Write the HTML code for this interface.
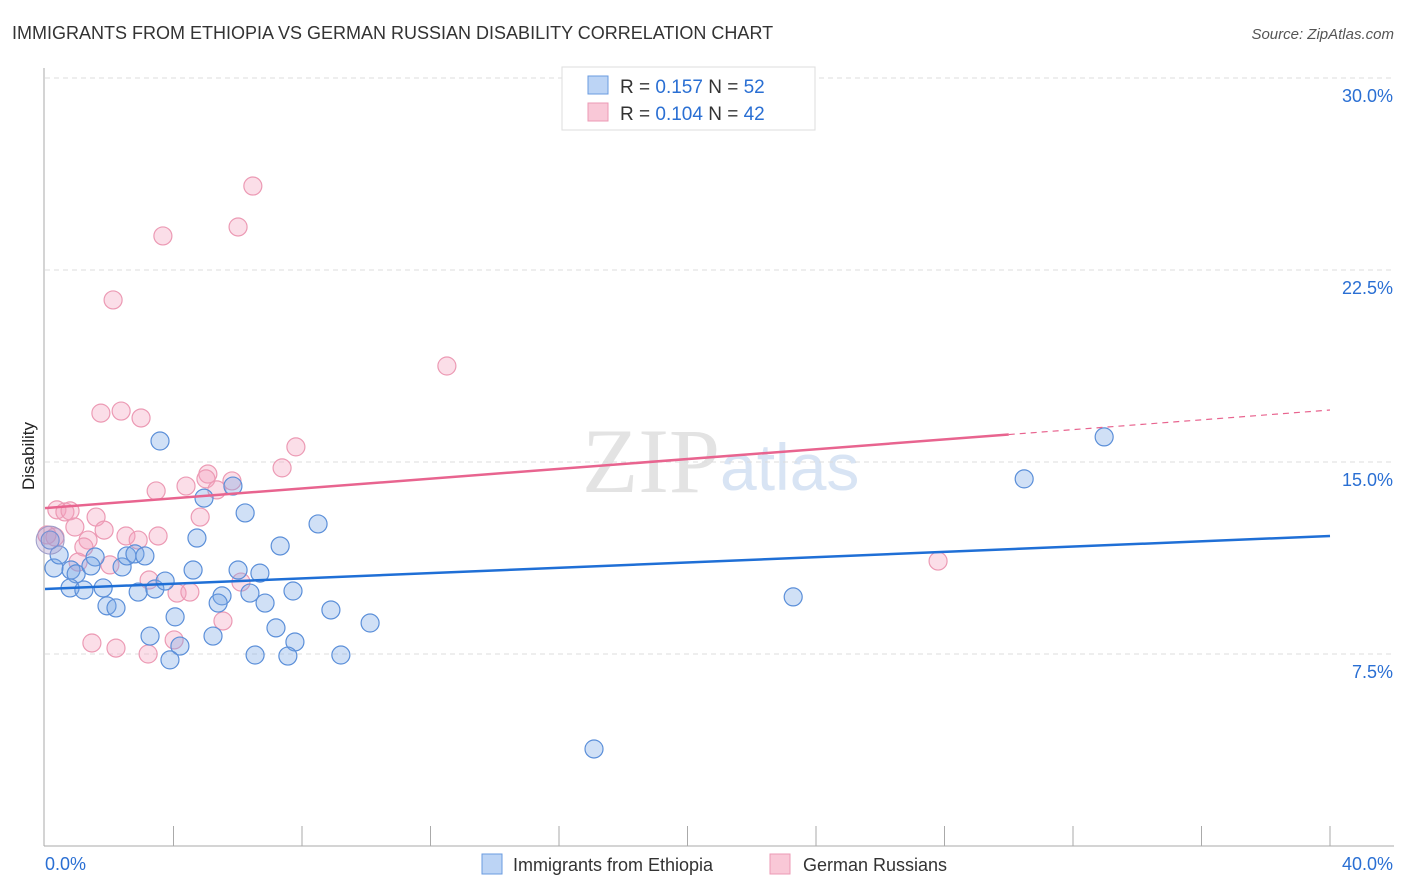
<!DOCTYPE html>
<html><head><meta charset="utf-8"><style>
body{margin:0;background:#fff;font-family:"Liberation Sans",sans-serif}
svg{display:block}
</style></head><body>
<svg width="1406" height="892" id="c">
<text x="12" y="39" font-size="18" fill="#333">IMMIGRANTS FROM ETHIOPIA VS GERMAN RUSSIAN DISABILITY CORRELATION CHART</text>
<text x="1394" y="39" font-size="15" fill="#555" font-style="italic" text-anchor="end">Source: ZipAtlas.com</text>
<text x="720" y="492" font-size="92" fill="#e3e3e3" text-anchor="end" font-family="Liberation Serif">ZIP</text>
<text x="720" y="490" font-size="66" fill="#d8e4f4">atlas</text>
<text x="34" y="456" font-size="17" fill="#222" transform="rotate(-90 34 456)" text-anchor="middle">Disability</text>
<g id="grid"></g><g id="marks"></g>
<g>
<rect x="562" y="67" width="253" height="63" fill="#fff" stroke="#ddd"/>
<rect x="588" y="76" width="20" height="18" fill="#bcd4f5" stroke="#6a9be0"/>
<rect x="588" y="103" width="20" height="18" fill="#f9c8d7" stroke="#ec9ab4"/>
<text x="620" y="93" font-size="19" fill="#333">R = <tspan fill="#2a6fd3">0.157</tspan>   N = <tspan fill="#2a6fd3">52</tspan></text>
<text x="620" y="120" font-size="19" fill="#333">R = <tspan fill="#2a6fd3">0.104</tspan>   N = <tspan fill="#2a6fd3">42</tspan></text>
</g>
<g>
<rect x="482" y="854" width="20" height="20" fill="#bcd4f5" stroke="#6a9be0"/>
<text x="513" y="871" font-size="18" fill="#333">Immigrants from Ethiopia</text>
<rect x="770" y="854" width="20" height="20" fill="#f9c8d7" stroke="#ec9ab4"/>
<text x="803" y="871" font-size="18" fill="#333">German Russians</text>
</g>
</svg>
<script>
const blueX=[3.58,4.95,5.85,6.23,8.50,4.73,7.32,0.28,0.44,0.81,0.97,1.56,1.43,2.40,2.55,2.80,3.11,0.78,1.21,1.81,2.90,3.42,3.74,4.61,6.01,6.69,6.38,5.51,7.72,1.93,2.21,5.39,6.85,8.90,4.05,3.27,5.23,4.20,3.89,7.19,7.78,6.54,7.56,9.21,10.12,17.09,23.29,30.48,32.97,0.16];
const blueY=[15.82,13.59,14.06,13.01,12.58,12.03,11.72,10.86,11.37,10.78,10.63,11.29,10.94,10.90,11.33,11.41,11.33,10.08,10.00,10.08,9.92,10.04,10.35,10.78,10.78,10.66,9.88,9.77,9.96,9.38,9.30,9.49,9.49,9.22,8.95,8.20,8.20,7.81,7.27,8.52,7.97,7.46,7.42,7.46,8.71,3.79,9.73,14.34,15.98,11.95];
const pinkX=[6.47,6.01,3.67,2.12,12.51,1.74,2.37,2.99,7.81,7.38,5.07,5.01,5.82,4.39,3.46,5.35,4.83,0.37,0.62,0.78,1.59,0.93,1.84,2.52,3.52,2.90,1.34,1.21,1.03,2.02,3.24,4.11,4.51,6.10,5.54,1.46,2.21,3.21,4.02,27.80,0.06,0.31];
const pinkY=[25.78,24.18,23.83,21.33,18.75,16.91,16.99,16.72,15.59,14.77,14.53,14.34,14.26,14.06,13.87,13.91,12.85,13.13,13.05,13.09,12.85,12.46,12.34,12.11,12.11,11.95,11.95,11.68,11.09,10.98,10.39,9.88,9.92,10.31,8.79,7.93,7.73,7.50,8.05,11.13,12.15,12.07];
const blueTrend=[10.04,12.11];
const pinkTrend=[13.2,17.03];
const pinkSolidEnd=30.0;
const yTicks=[7.5,15,22.5,30];
const xTickCount=10;
const X=v=>45+v/40*1285, Y=v=>846-v*25.6;
const NS='http://www.w3.org/2000/svg';
function mk(t,a,p){const e=document.createElementNS(NS,t);for(const k in a)e.setAttribute(k,a[k]);p.appendChild(e);return e;}
const g=document.getElementById('grid'),m=document.getElementById('marks');
yTicks.forEach(t=>{const l=mk('line',{x1:45,x2:1394,y1:Y(t),y2:Y(t),stroke:'#ddd','stroke-dasharray':'5,4'},g);


const tx=mk('text',{x:1393,y:Y(t)+24,'font-size':18,fill:'#2a6fd3','text-anchor':'end'},g);tx.textContent=t.toFixed(1)+'%';

});
const ax=mk('line',{x1:44,x2:44,y1:68,y2:846,stroke:'#aaa'},g);


const bx=mk('line',{x1:44,x2:1394,y1:846,y2:846,stroke:'#aaa'},g);


for(let i=1;i<=xTickCount;i++){const v=i*40/xTickCount;const l=mk('line',{x1:X(v),x2:X(v),y1:826,y2:846,stroke:'#aaa'},g);

}
[['0.0%',45,'start'],['40.0%',1393,'end']].forEach(([s,x,a])=>{const t=mk('text',{x:x,y:870,'font-size':18,fill:'#2a6fd3','text-anchor':a},g);t.textContent=s;

});
function dots(xs,ys,f,s,name){xs.forEach((x,i)=>{const c=mk('circle',{cx:X(x),cy:Y(ys[i]),r:9,fill:f,stroke:s,'stroke-width':1.2},m);

});}
dots(pinkX,pinkY,'rgba(244,160,188,0.35)','#ec9ab4','german-russians-point');
dots(blueX,blueY,'rgba(120,165,230,0.35)','#5b8fd9','ethiopia-point');
const big=mk('circle',{cx:X(0.16),cy:Y(11.95),r:14,fill:'rgba(170,150,200,0.35)',stroke:'#9a9ac8'},m);


const bl=mk('line',{x1:X(0),y1:Y(blueTrend[0]),x2:X(40),y2:Y(blueTrend[1]),stroke:'#1f6fd6','stroke-width':2.5},m);


const py=v=>pinkTrend[0]+(pinkTrend[1]-pinkTrend[0])*v/40;
const pl=mk('line',{x1:X(0),y1:Y(py(0)),x2:X(pinkSolidEnd),y2:Y(py(pinkSolidEnd)),stroke:'#e8648f','stroke-width':2.5},m);


const pd=mk('line',{x1:X(pinkSolidEnd),y1:Y(py(pinkSolidEnd)),x2:X(40),y2:Y(py(40)),stroke:'#e8648f','stroke-width':1.2,'stroke-dasharray':'6,5'},m);


</script>
</body></html>
